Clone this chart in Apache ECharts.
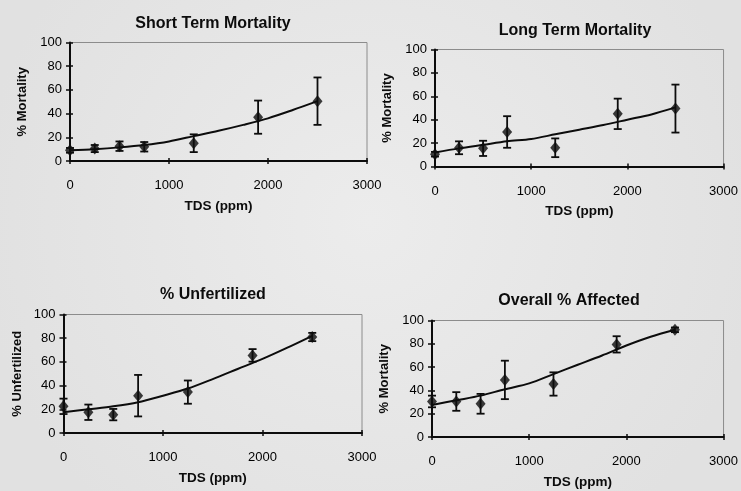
<!DOCTYPE html>
<html>
<head>
<meta charset="utf-8">
<title>Toxicity vs TDS</title>
<script src="https://cdn.jsdelivr.net/npm/echarts@6/dist/echarts.min.js"></script>
<style>
  html, body { margin: 0; padding: 0; background: #e7e7e7; }
  #chart { width: 741px; height: 491px; }
</style>
</head>
<body>
<div id="chart"></div>
<script>
// TDS concentrations tested (ppm)
const tds = [0, 250, 500, 750, 1250, 1900, 2500];
// x positions of the fitted trend curves
const trendTds = [0, 250, 500, 750, 1000, 1250, 1500, 1750, 2000, 2250, 2500];

// Short term mortality (%)
const shortMean = [9, 10.5, 12.5, 12, 15, 37, 50.5];
const shortErr = [2, 3, 4, 4, 7.5, 14, 20];
const shortTrend = [9, 10, 11.5, 13.5, 16.5, 21, 25.5, 30.5, 36, 43, 50.5];

// Long term mortality (%)
const longMean = [10.5, 16, 15.5, 29.5, 16, 45, 49.5];
const longErr = [2, 5.5, 6.5, 13.5, 8, 13, 20.5];
const longTrend = [12, 15.5, 18.5, 21.5, 23.5, 27.5, 31.5, 35.5, 40, 44.5, 50.5];

// Unfertilized eggs (%)
const unfMean = [22.5, 17.5, 15.5, 31.5, 34.5, 65.5, 81];
const unfErr = [6.5, 6.5, 4.8, 17.5, 9.8, 5.3, 3.5];
const unfTrend = [17.5, 20, 22.5, 26, 31.5, 37.5, 45.5, 54, 62.5, 72, 82];

// Overall affected (%)
const affMean = [30.5, 30.5, 28.5, 49, 45.5, 79.5, 92];
const affErr = [5, 8, 8.5, 16.5, 10, 7, 2];
const affTrend = [27.5, 31.5, 35.5, 41, 46, 54, 62, 70, 78.5, 86, 92];

// Axis ticks
const xTicks = [0, 1000, 2000, 3000];
const yTicks = [0, 20, 40, 60, 80, 100];

const panels = [
  { title: 'Short Term Mortality', yName: '% Mortality', mean: shortMean, err: shortErr, trend: shortTrend,
    grid: { left: 70, top: 42.5, width: 297, height: 118.5 }, titlePos: [208, 11], yGap: 41 },
  { title: 'Long Term Mortality', yName: '% Mortality', mean: longMean, err: longErr, trend: longTrend,
    grid: { left: 435, top: 49.5, width: 292, height: 117 }, titlePos: [570, 18], yGap: 41 },
  { title: '% Unfertilized', yName: '% Unfertilized', mean: unfMean, err: unfErr, trend: unfTrend,
    grid: { left: 63.5, top: 314.5, width: 298.5, height: 118.5 }, titlePos: [208, 282], yGap: 40 },
  { title: 'Overall % Affected', yName: '% Mortality', mean: affMean, err: affErr, trend: affTrend,
    grid: { left: 432, top: 320.5, width: 293, height: 116.5 }, titlePos: [564, 288], yGap: 41 }
];

const FONT = '"Liberation Sans", Arial, sans-serif';
const INK = '#0c0c0c';

const grids = [], xAxes = [], yAxes = [], series = [], titles = [];

panels.forEach((p, i) => {
  grids.push(Object.assign({ show: true, borderColor: '#8c8c8c', borderWidth: 1, backgroundColor: 'transparent' }, p.grid));
  titles.push({
    text: p.title, left: p.titlePos[0], top: p.titlePos[1], textAlign: 'center',
    textStyle: { fontFamily: FONT, fontSize: 16, fontWeight: 'bold', color: INK }
  });
  // main axes: line, outward ticks, labels and names
  xAxes.push({
    gridIndex: i, type: 'value', min: xTicks[0], max: xTicks[xTicks.length - 1], interval: 1000,
    name: 'TDS (ppm)', nameLocation: 'middle', nameGap: 38,
    nameTextStyle: { fontFamily: FONT, fontSize: 13.5, fontWeight: 'bold', color: INK },
    axisLine: { show: true, onZero: false, lineStyle: { color: INK, width: 2 } },
    axisTick: { show: true, inside: false, length: 3, lineStyle: { color: INK, width: 1.5 } },
    axisLabel: { margin: 18, fontFamily: FONT, fontSize: 13, color: '#000', formatter: v => String(v) },
    splitLine: { show: false }
  });
  yAxes.push({
    gridIndex: i, type: 'value', min: yTicks[0], max: yTicks[yTicks.length - 1], interval: 20,
    name: p.yName, nameLocation: 'middle', nameGap: p.yGap,
    nameTextStyle: { fontFamily: FONT, fontSize: 13, fontWeight: 'bold', color: INK },
    axisLine: { show: true, onZero: false, lineStyle: { color: INK, width: 2 } },
    axisTick: { show: true, inside: false, length: 4, lineStyle: { color: INK, width: 1.5 } },
    axisLabel: { margin: 8, fontFamily: FONT, fontSize: 13, color: '#000', formatter: v => String(v) },
    splitLine: { show: false }
  });
});

// companion axes drawing the inner half of the cross tick marks
panels.forEach((p, i) => {
  xAxes.push({
    gridIndex: i, type: 'value', min: xTicks[0], max: xTicks[xTicks.length - 1], interval: 1000, position: 'bottom',
    axisLine: { show: false }, axisLabel: { show: false }, splitLine: { show: false },
    axisTick: { show: true, inside: true, length: 3, lineStyle: { color: INK, width: 1.5 } }
  });
  yAxes.push({
    gridIndex: i, type: 'value', min: yTicks[0], max: yTicks[yTicks.length - 1], interval: 20, position: 'left',
    axisLine: { show: false }, axisLabel: { show: false }, splitLine: { show: false },
    axisTick: { show: true, inside: true, length: 3, lineStyle: { color: INK, width: 1.5 } }
  });
});

panels.forEach((p, i) => {
  // fitted trend curve
  series.push({
    type: 'line', xAxisIndex: i, yAxisIndex: i, smooth: 0.3, symbol: 'none', silent: true,
    data: trendTds.map((x, k) => [x, p.trend[k]]),
    lineStyle: { color: INK, width: 2 }, z: 2
  });
  // error bars (mean ± error)
  series.push({
    type: 'custom', xAxisIndex: i, yAxisIndex: i, silent: true, z: 3,
    data: tds.map((x, k) => [x, p.mean[k] - p.err[k], p.mean[k] + p.err[k]]),
    renderItem(params, api) {
      const lo = api.coord([api.value(0), api.value(1)]);
      const hi = api.coord([api.value(0), api.value(2)]);
      const hw = 4;
      const st = { stroke: INK, lineWidth: 1.8 };
      return {
        type: 'group',
        children: [
          { type: 'line', shape: { x1: hi[0], y1: hi[1], x2: lo[0], y2: lo[1] }, style: st },
          { type: 'line', shape: { x1: hi[0] - hw, y1: hi[1], x2: hi[0] + hw, y2: hi[1] }, style: st },
          { type: 'line', shape: { x1: lo[0] - hw, y1: lo[1], x2: lo[0] + hw, y2: lo[1] }, style: st }
        ]
      };
    }
  });
  // mean values
  series.push({
    type: 'scatter', xAxisIndex: i, yAxisIndex: i, symbol: 'diamond', symbolSize: [10, 12], silent: true,
    data: tds.map((x, k) => [x, p.mean[k]]),
    itemStyle: { color: INK }, z: 4
  });
});

const chart = echarts.init(document.getElementById('chart'), null, { renderer: 'canvas' });
chart.setOption({
  animation: false,
  backgroundColor: {
    type: 'radial', x: 0.5, y: 0.45, r: 0.8,
    colorStops: [{ offset: 0, color: '#ececec' }, { offset: 1, color: '#e1e1e1' }]
  },
  title: titles,
  grid: grids,
  xAxis: xAxes,
  yAxis: yAxes,
  series: series
});
</script>
</body>
</html>
